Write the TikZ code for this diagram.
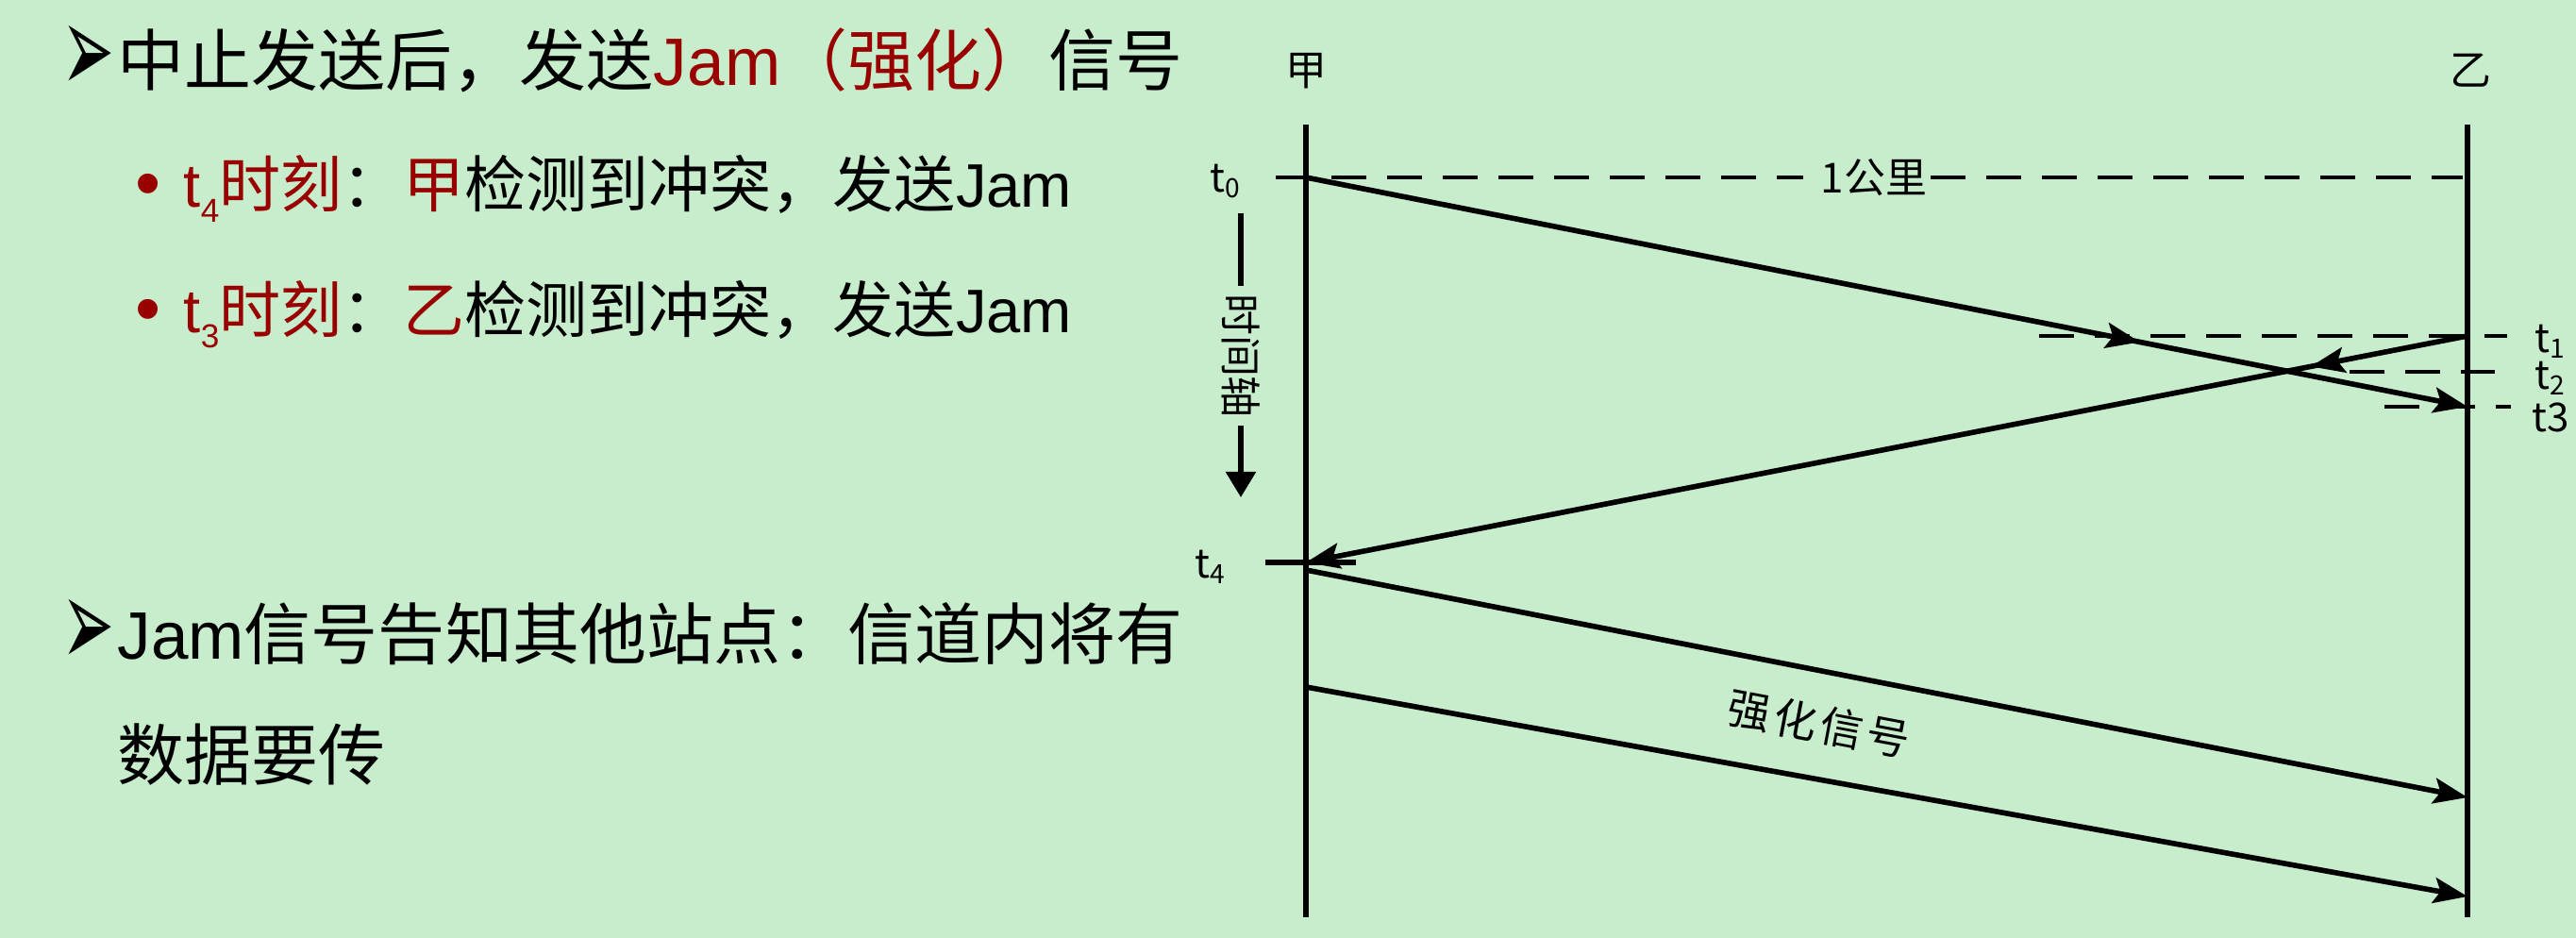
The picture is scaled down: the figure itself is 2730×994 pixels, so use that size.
\documentclass[tikz,border=0pt]{standalone}
\usepackage{fontspec}
\setmainfont{Noto Sans CJK SC}
\newfontfamily\lat{Liberation Sans}
\newfontfamily\dejavu{DejaVu Sans}
\usetikzlibrary{arrows.meta,decorations.markings}
\definecolor{bg}{RGB}{199,237,204}
\definecolor{darkred}{RGB}{153,0,0}
\tikzset{
  tipx/.tip={Stealth[length=0.36cm,width=0.27cm,inset=0.07cm]},
  sig/.style={line width=1.6pt, line cap=butt},
  dsh/.style={line width=1.3pt, dash pattern=on 0.37cm off 0.22cm},
  lbl/.style={inner sep=0pt, font=\fontsize{12.5pt}{14pt}\selectfont},
  tlbl/.style={inner sep=0pt, font=\fontsize{12pt}{14pt}\selectfont},
  bigtxt/.style={inner sep=0pt, anchor=west, font=\fontsize{20.2pt}{24pt}\selectfont},
  midtxt/.style={inner sep=0pt, anchor=west, font=\fontsize{18.5pt}{22pt}\selectfont},
  arrbul/.style={inner sep=0pt, xscale=0.5, font=\dejavu\fontsize{38pt}{40pt}\selectfont},
  dotbul/.style={inner sep=0pt, text=darkred, font=\lat\fontsize{22pt}{24pt}\selectfont}
}
\begin{document}
\begin{tikzpicture}[x=0.01cm,y=-0.01cm]
\useasboundingbox (0,0) rectangle (2730,994);
\fill[bg] (0,0) rectangle (2730,994);

% ---------- left text ----------
\node[arrbul] (b1) at (93,63) {➢};
\node[bigtxt] (title) at (124,64) {中止发送后，发送\textcolor{darkred}{{\lat Jam}（强化）}信号};
\node[dotbul] (d1) at (157,202) {•};
\node[midtxt] (l1) at (194,200) {\textcolor{darkred}{{\lat t\raisebox{-0.16cm}{\fontsize{10pt}{10pt}\selectfont 4}}时刻}：\textcolor{darkred}{甲}检测到冲突，发送{\lat Jam}};
\node[dotbul] (d2) at (157,335) {•};
\node[midtxt] (l2) at (194,333) {\textcolor{darkred}{{\lat t\raisebox{-0.16cm}{\fontsize{10pt}{10pt}\selectfont 3}}时刻}：\textcolor{darkred}{乙}检测到冲突，发送{\lat Jam}};
\node[arrbul] (b2) at (93,671) {➢};
\node[bigtxt] (l3) at (124,672) {{\lat Jam}信号告知其他站点：信道内将有};
\node[bigtxt] (l4) at (124,800) {数据要传};

% ---------- diagram ----------
\node[lbl] (jia) at (1384,75) {甲};
\node[lbl] (yi) at (2618,75) {乙};
\coordinate (Atop) at (1384,132);
\coordinate (Abot) at (1384,972);
\coordinate (Btop) at (2615,132);
\coordinate (Bbot) at (2615,972);
\draw[sig] (Atop) -- (Abot);
\draw[sig] (Btop) -- (Bbot);

\coordinate (A0) at (1384,188);
\coordinate (B1) at (2615,356);
\coordinate (B3) at (2615,431);
\coordinate (A4) at (1384,596);
\coordinate (A5) at (1384,604);
\coordinate (B5) at (2615,845);
\coordinate (A6) at (1384,728);
\coordinate (B6) at (2615,950);

% t0 dashed with distance label
\coordinate (t0s) at (1352,188);
\coordinate (t0e) at (2610,188);
\node[inner sep=0pt, font=\fontsize{12.5pt}{14pt}\selectfont] (km) at (1986,188) {1公里};
\draw[dsh] (t0s) -- ([xshift=-0.18cm]km.west);
\draw[dsh] ([xshift=0.03cm]km.east) -- (t0e);
\node[tlbl] (t0) at (1299,192) {t\textsubscript{0}};

% t1, t2, t3 dashed
\coordinate (t1s) at (2161,356);
\coordinate (t1e) at (2657,356);
\coordinate (t2s) at (2490,394);
\coordinate (t2e) at (2644,394);
\coordinate (t3s) at (2527,431);
\coordinate (t3e) at (2661,431);
\draw[dsh] (t1s) -- (t1e);
\draw[dsh] (t2s) -- (t2e);
\draw[dsh] (t3s) -- (t3e);
\node[tlbl] (t1) at (2703,362) {t\textsubscript{1}};
\node[tlbl] (t2) at (2703,401) {t\textsubscript{2}};
\node[tlbl] (t3) at (2703,442) {t3};

% t4 tick
\coordinate (t4s) at (1341,596);
\coordinate (t4e) at (1437,596);
\draw[sig] (t4s) -- (t4e);
\node[tlbl] (t4) at (1283,601) {t\textsubscript{4}};

% signal from A at t0 to B at t3
\draw[sig, -{tipx}, postaction={decorate},
  decoration={markings, mark=at position 0.718 with {\arrow{tipx}}}] (A0) -- (B3);
% signal from B at t1 back to A at t4
\draw[sig, -{tipx}, postaction={decorate},
  decoration={markings, mark=at position 0.135 with {\arrow{tipx}}}] (B1) -- (A4);
% jam signals
\draw[sig, -{tipx}] (A5) -- (B5);
\draw[sig, -{tipx}] (A6) -- (B6);
\node[inner sep=0pt, rotate=-10.7, font=\fontsize{13pt}{15pt}\selectfont] (jam) at (1928,767) {强\hspace{1.2pt}化\hspace{1.2pt}信\hspace{1.2pt}号};

% time axis
\coordinate (ax0) at (1315,226);
\coordinate (ax1) at (1315,527);
\node[lbl, rotate=-90, inner sep=2pt] (axl) at (1315,377) {时间轴};
\draw[sig] (ax0) -- (axl.west);
\draw[sig, -{Triangle[length=0.27cm,width=0.31cm]}] (axl.east) -- (ax1);
\end{tikzpicture}
\end{document}
